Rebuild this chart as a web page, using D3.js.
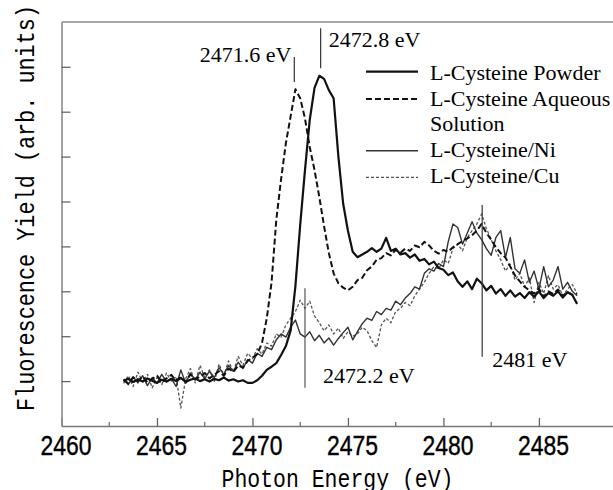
<!DOCTYPE html>
<html>
<head>
<meta charset="utf-8">
<script src="https://cdn.jsdelivr.net/npm/d3@7"></script>
<style>
  body { margin: 0; background: #fff; }
  svg { display: block; }
</style>
</head>
<body>
<div id="chart"></div>
<script>
// energy grid (eV) the spectra are sampled on
const energyStart = 2463.25;
const energyStep = 0.25;

// fluorescence yield, arbitrary units
const powder = [
  1.00, 1.05, 0.98, 1.04, 0.99, 1.06, 1.01, 0.96,
  1.03, 0.99, 1.05, 1.00, 1.07, 0.98, 1.03, 1.06,
  1.00, 1.04, 0.99, 1.05, 1.02, 1.08, 1.01, 1.04,
  0.99, 1.02, 0.96, 0.96, 1.02, 1.12, 1.25, 1.32,
  1.40, 1.58, 1.78, 2.13, 3.12, 4.48, 5.70, 6.82,
  7.53, 7.80, 7.73, 7.48, 7.30, 6.00, 4.95, 4.35,
  3.88, 3.76, 3.82, 3.88, 3.96, 3.88, 3.95, 4.19,
  3.90, 3.95, 3.82, 3.85, 3.75, 3.82, 3.68, 3.72,
  3.60, 3.66, 3.52, 3.48, 3.36, 3.42, 3.22, 3.10,
  3.22, 3.05, 3.28, 3.18, 3.02, 3.12, 2.95, 3.05,
  2.90, 3.02, 2.88, 2.96, 2.85, 2.98, 2.88, 3.00,
  2.85, 2.96, 2.90, 3.00, 2.86, 2.98, 2.92, 2.72
];

const aqueous = [
  1.02, 0.95, 1.08, 1.00, 1.10, 0.97, 1.05, 1.12,
  0.98, 1.06, 1.14, 1.01, 1.09, 0.99, 1.15, 1.04,
  1.10, 1.18, 1.06, 1.14, 1.22, 1.12, 1.28, 1.20,
  1.35, 1.30, 1.45, 1.52, 1.60, 1.85, 2.40, 3.20,
  4.60, 5.50, 6.30, 6.90, 7.50, 7.30, 6.85, 6.21,
  5.70, 5.10, 4.45, 3.85, 3.40, 3.18, 3.08, 3.02,
  3.10, 3.25, 3.30, 3.47, 3.55, 3.70, 3.74, 3.85,
  3.80, 3.92, 3.86, 3.95, 3.90, 4.02, 3.98, 4.10,
  4.02, 3.90, 3.84, 3.92, 3.88, 3.98, 4.05, 4.12,
  4.18, 4.25, 4.35, 4.50, 4.30, 4.15, 3.98, 3.85,
  3.75, 3.55, 3.35, 3.22, 3.10, 3.02, 2.95, 3.06,
  2.88, 3.00, 2.94, 3.04, 2.90, 2.98, 2.92, 2.95
];

const onNi = [
  1.05, 0.92, 1.10, 0.96, 1.12, 0.90, 1.08, 0.95,
  1.15, 0.98, 1.06, 0.88, 1.25, 0.95, 1.18, 1.02,
  1.20, 1.05, 1.22, 1.08, 1.30, 1.15, 1.35, 1.22,
  1.42, 1.28, 1.48, 1.40, 1.62, 1.55, 1.75, 1.70,
  1.92, 2.05, 1.98, 2.20, 2.36, 2.05, 1.98, 2.10,
  1.90, 2.02, 1.85, 1.96, 1.80, 1.95, 2.08, 2.20,
  1.92, 2.10, 2.28, 2.40, 2.35, 2.55, 2.48, 2.62,
  2.58, 2.78, 2.70, 2.85, 2.95, 3.10, 3.05, 3.40,
  3.50, 3.45, 3.62, 3.55, 4.10, 4.50, 4.42, 4.05,
  4.30, 4.55, 4.30, 4.15, 3.95, 3.80, 4.20, 4.35,
  3.75, 4.20, 3.50, 3.40, 3.70, 3.20, 3.45, 3.05,
  3.55, 3.10, 3.25, 3.55, 3.05, 3.20, 3.00, 2.90
];

const onCu = [
  0.95, 1.12, 0.88, 1.20, 0.98, 1.15, 0.85, 1.08,
  0.92, 1.18, 1.00, 1.10, 0.40, 1.05, 1.28, 0.96,
  1.35, 1.08, 1.25, 0.98, 1.38, 1.12, 1.45, 1.20,
  1.55, 1.35, 1.62, 1.50, 1.72, 1.60, 1.85, 1.78,
  2.05, 1.98, 2.25, 2.40, 2.55, 2.80, 2.62, 2.78,
  2.45, 2.30, 2.12, 2.25, 2.05, 2.18, 1.95, 2.10,
  2.00, 2.05, 2.20, 2.12, 1.90, 1.75, 2.25, 2.40,
  2.30, 2.55, 2.62, 2.75, 2.68, 2.90, 3.05, 3.20,
  3.40, 3.55, 3.50, 3.70, 3.62, 3.95, 4.05, 3.90,
  4.20, 4.35, 4.50, 4.72, 4.40, 4.15, 3.90, 3.70,
  3.45, 3.60, 3.25, 3.40, 3.10, 3.30, 2.75, 3.20,
  2.95, 3.35, 3.05, 3.15, 2.90, 3.05, 3.15, 2.95
];

const seriesNames = ["L-Cysteine Powder", "L-Cysteine Aqueous", "L-Cysteine/Ni", "L-Cysteine/Cu"];
const xTicks = [2460, 2465, 2470, 2475, 2480, 2485];
const xMinorTicks = [2462.5, 2467.5, 2472.5, 2477.5, 2482.5];
const yTicks = [1, 2, 3, 4, 5, 6, 7, 8];

// peak markers: label, energy on the axis, marker line from/to (yield units)
const markLabels = ["2471.6 eV", "2472.8 eV", "2472.2 eV", "2481 eV"];
const markEnergy = [2472.19, 2473.57, 2472.75, 2482.03];
const markFrom = [7.66, 7.97, 0.85, 1.54];
const markTo = [8.22, 8.86, 3.07, 4.92];

const width = 613, height = 490;
const svg = d3.select("#chart").append("svg")
  .attr("width", width)
  .attr("height", height);

const x = d3.scaleLinear().domain([2460, 2488.88]).range([61.5, 613]);
const y = d3.scaleLinear().domain([0, 9]).range([426, 21.9]);

// frame: top line, bottom axis, left axis
svg.append("line")
  .attr("x1", x(2460)).attr("x2", 613)
  .attr("y1", y(9)).attr("y2", y(9))
  .attr("stroke", "#8a8a8a").attr("stroke-width", 1.5);

const xAxis = svg.append("g")
  .attr("transform", "translate(0," + y(0) + ")")
  .call(d3.axisBottom(x).tickValues(xTicks).tickSizeInner(-8).tickSizeOuter(0).tickFormat(d3.format("d")));
xAxis.select(".domain").attr("stroke", "#777").attr("stroke-width", 1.6);
xAxis.selectAll(".tick line").attr("stroke", "#666").attr("stroke-width", 1.3);
xAxis.selectAll(".tick text")
  .attr("y", 29).attr("dy", 0).attr("x", 4)
  .attr("font-family", "'Liberation Sans', Arial, sans-serif")
  .attr("font-size", 28)
  .attr("fill", "#000")
  .attr("stroke", "#000")
  .attr("stroke-width", 0.4)
  .attr("textLength", 51)
  .attr("lengthAdjust", "spacingAndGlyphs");

svg.append("g")
  .selectAll("line")
  .data(xMinorTicks)
  .join("line")
  .attr("x1", d => x(d)).attr("x2", d => x(d))
  .attr("y1", y(0)).attr("y2", y(0) - 4)
  .attr("stroke", "#666").attr("stroke-width", 1.2);

const yAxis = svg.append("g")
  .attr("transform", "translate(" + x(2460) + ",0)")
  .call(d3.axisLeft(y).tickValues(yTicks).tickSizeInner(-9).tickSizeOuter(0).tickFormat(""));
yAxis.select(".domain").attr("stroke", "#8a8a8a").attr("stroke-width", 1.6);
yAxis.selectAll(".tick line").attr("stroke", "#666").attr("stroke-width", 1.3);

// axis titles
svg.append("text")
  .attr("x", 337.5).attr("y", 487)
  .attr("text-anchor", "middle")
  .attr("font-family", "'Liberation Mono', 'DejaVu Sans Mono', monospace")
  .attr("font-size", 26)
  .attr("textLength", 232)
  .attr("lengthAdjust", "spacingAndGlyphs")
  .text("Photon Energy (eV)");

svg.append("text")
  .attr("transform", "translate(34,208) rotate(-90)")
  .attr("text-anchor", "middle")
  .attr("font-family", "'Liberation Mono', 'DejaVu Sans Mono', monospace")
  .attr("font-size", 26)
  .attr("textLength", 406)
  .attr("lengthAdjust", "spacingAndGlyphs")
  .text("Fluorescence Yield (arb. units)");

// spectra
const styles = [
  { stroke: "#111", width: 2.2, dash: null },
  { stroke: "#111", width: 2.0, dash: "6,3" },
  { stroke: "#333", width: 1.4, dash: null },
  { stroke: "#555", width: 1.3, dash: "3,2" }
];
const spectra = [powder, aqueous, onNi, onCu];

const line = d3.line()
  .x((d, i) => x(energyStart + i * energyStep))
  .y(d => y(d));

// draw thin ones first, thick ones on top
[3, 2, 1, 0].forEach(k => {
  svg.append("path")
    .datum(spectra[k])
    .attr("fill", "none")
    .attr("stroke", styles[k].stroke)
    .attr("stroke-width", styles[k].width)
    .attr("stroke-dasharray", styles[k].dash)
    .attr("stroke-linejoin", "round")
    .attr("d", line);
});

// peak marker lines and labels
const serif = "'Liberation Serif', 'Times New Roman', serif";
const marks = svg.append("g");
markEnergy.forEach((e, i) => {
  marks.append("line")
    .attr("x1", x(e)).attr("x2", x(e))
    .attr("y1", y(markFrom[i])).attr("y2", y(markTo[i]))
    .attr("stroke", i === 2 ? "#555" : "#333")
    .attr("stroke-width", 1.2);
});
const labelPos = [
  { dx: -3, y: 62, anchor: "end" },
  { dx: 8, y: 47, anchor: "start" },
  { dx: 18, y: 383, anchor: "start" },
  { dx: 10, y: 367, anchor: "start" }
];
markLabels.forEach((t, i) => {
  marks.append("text")
    .attr("x", x(markEnergy[i]) + labelPos[i].dx)
    .attr("y", labelPos[i].y)
    .attr("text-anchor", labelPos[i].anchor)
    .attr("font-family", serif)
    .attr("font-size", 22)
    .text(t);
});

// legend
const legend = svg.append("g");
const legendLineY = [71.7, 99, 150.7, 177.3];
const legendTextY = [80, 106, 157, 183];
seriesNames.forEach((name, i) => {
  legend.append("line")
    .attr("x1", 366).attr("x2", 418)
    .attr("y1", legendLineY[i]).attr("y2", legendLineY[i])
    .attr("stroke", styles[i].stroke)
    .attr("stroke-width", styles[i].width)
    .attr("stroke-dasharray", styles[i].dash);
  legend.append("text")
    .attr("x", 430).attr("y", legendTextY[i])
    .attr("font-family", serif)
    .attr("font-size", 22)
    .text(name);
});
legend.append("text")
  .attr("x", 430).attr("y", 131)
  .attr("font-family", serif)
  .attr("font-size", 22)
  .text("Solution");
</script>
</body>
</html>
